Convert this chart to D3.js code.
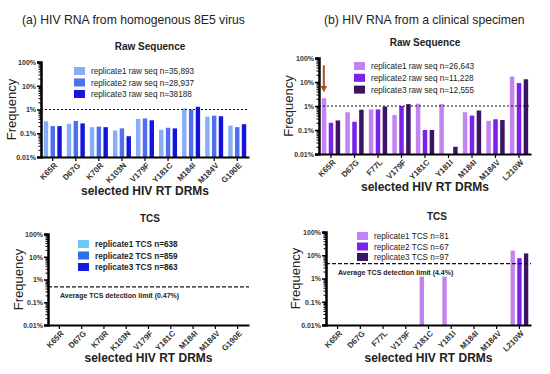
<!DOCTYPE html>
<html lang="en">
<head>
<meta charset="utf-8" />
<title>HIV RT DRMs frequency</title>
<script src="https://d3js.org/d3.v7.min.js"></script>
<style>
  body { margin: 0; background: #fff; font-family: Arial, "Liberation Sans", sans-serif; }
  svg text { fill: #222; }
  .tick text { font-weight: bold; font-size: 7px; fill: #333; }
</style>
</head>
<body>
<svg id="chart" width="550" height="374"></svg>
<script>
// categories
const drmsA = ["K65R", "D67G", "K70R", "K103N", "V179F", "Y181C", "M184I", "M184V", "G190E"];
const drmsB = ["K65R", "D67G", "F77L", "V179F", "Y181C", "Y181I", "M184I", "M184V", "L210W"];

// (a) raw sequence, percent
const rawA1 = [0.32, 0.25, 0.18, 0.13, 0.40, 0.14, 1.10, 0.50, 0.21];
const rawA2 = [0.20, 0.33, 0.19, 0.16, 0.42, 0.17, 1.00, 0.55, 0.18];
const rawA3 = [0.20, 0.26, 0.18, 0.075, 0.35, 0.16, 1.30, 0.52, 0.24];

// (a) TCS - nothing detected
const tcsA1 = [null, null, null, null, null, null, null, null, null];
const tcsA2 = [null, null, null, null, null, null, null, null, null];
const tcsA3 = [null, null, null, null, null, null, null, null, null];

// (b) raw sequence, percent
const rawB1 = [2.1, 0.55, 0.72, 0.42, 1.25, 1.2, 0.55, 0.24, 17];
const rawB2 = [0.20, 0.22, 0.72, 1.0, 0.10, null, 0.40, 0.28, 9];
const rawB3 = [0.25, 0.70, 0.95, 1.2, 0.10, 0.02, 0.65, 0.26, 13];

// (b) TCS, percent
const tcsB1 = [null, null, null, null, 1.2, 1.2, null, null, 16];
const tcsB2 = [null, null, null, null, null, null, null, null, 7.5];
const tcsB3 = [null, null, null, null, null, null, null, null, 12];

const legRawA = ["replicate1 raw seq n=35,893", "replicate2 raw seq n=28,937", "replicate3 raw seq n=38188"];
const legTcsA = ["replicate1 TCS n=638", "replicate2 TCS n=859", "replicate3 TCS n=863"];
const legRawB = ["replicate1 raw seq n=26,643", "replicate2 raw seq n=11,228", "replicate3 raw seq n=12,555"];
const legTcsB = ["replicate1 TCS n=81", "replicate2 TCS n=67", "replicate3 TCS n=97"];

const yTicks = [0.01, 0.1, 1, 10, 100];
const yTickLabels = ["0.01%", "0.1%", "1%", "10%", "100%"];

const colorsA = ["#86aef6", "#4d6ff0", "#1414dc"];
const colorsTcsA = ["#6cc8f2", "#2f6fe6", "#1818e0"];
const colorsB = ["#c384f2", "#7b22ea", "#3b1466"];

const svg = d3.select("#chart");

svg.append("text").attr("x", 22).attr("y", 24).attr("font-size", 12.2)
  .text("(a) HIV RNA from homogenous 8E5 virus");
svg.append("text").attr("x", 324).attr("y", 24).attr("font-size", 12.2)
  .text("(b) HIV RNA from a clinical specimen");

function drawPanel(p) {
  const g = svg.append("g");
  const x = d3.scaleBand().domain(p.cats).range([p.x0, p.x1]).paddingInner(0.22).paddingOuter(0.12);
  const xs = d3.scaleBand().domain([0, 1, 2]).range([0, x.bandwidth()]).paddingInner(0.35);
  const y = d3.scaleLog().domain([0.01, 100]).range([p.yBot, p.yTop]);

  // title
  g.append("text").attr("x", p.titleX).attr("y", p.yTop - 12).attr("text-anchor", "middle")
    .attr("font-size", 10).attr("font-weight", "bold").text(p.title);

  // bars
  p.series.forEach((s, i) => {
    g.append("g").selectAll("rect")
      .data(s.map((v, j) => ({ v, c: p.cats[j] })).filter(d => d.v != null))
      .join("rect")
      .attr("x", d => x(d.c) + xs(i))
      .attr("width", xs.bandwidth())
      .attr("y", d => y(d.v))
      .attr("height", d => p.yBot - y(d.v))
      .attr("fill", p.colors[i]);
  });

  // threshold line
  g.append("line").attr("x1", p.x0).attr("x2", p.x1)
    .attr("y1", y(p.limit)).attr("y2", y(p.limit))
    .attr("stroke", "#111").attr("stroke-width", 1.2)
    .attr("stroke-dasharray", p.dash);
  if (p.limitLabel) {
    g.append("text").attr("x", p.x0 + 12).attr("y", y(p.limit) + 11)
      .attr("font-size", 7).attr("font-weight", "bold").text(p.limitLabel);
  }

  // y axis with minor log ticks
  const minor = [];
  for (let e = -2; e < 2; e++) for (let k = 2; k <= 9; k++) minor.push(k * Math.pow(10, e));
  g.append("g").attr("transform", `translate(${p.x0},0)`)
    .call(d3.axisLeft(y).tickValues(minor).tickSize(2.5).tickFormat(""))
    .call(a => a.select(".domain").remove())
    .call(a => a.selectAll("line").attr("stroke", "#000"));
  g.append("g").attr("transform", `translate(${p.x0},0)`)
    .call(d3.axisLeft(y).tickValues(yTicks).tickSize(4).tickPadding(1)
      .tickFormat((d, i) => yTickLabels[i]))
    .call(a => a.select(".domain").attr("stroke", "#000").attr("stroke-width", 2.5))
    .call(a => a.selectAll("line").attr("stroke", "#000").attr("stroke-width", 1.5));

  // x axis, labels slanted up to the right and ending under the tick
  const xa = g.append("g").attr("transform", `translate(0,${p.yBot})`)
    .call(d3.axisBottom(x).tickSize(4).tickSizeOuter(0));
  xa.select(".domain").attr("stroke", "#000").attr("stroke-width", 2);
  xa.selectAll("line").attr("stroke", "#000").attr("stroke-width", 1.2);
  xa.selectAll("text").style("font-size", "8px")
    .attr("x", 0).attr("y", 0).attr("dy", "0.35em")
    .attr("text-anchor", "end")
    .attr("transform", "translate(3,7) rotate(-45)");

  // axis titles
  g.append("text").attr("x", (p.x0 + p.x1) / 2).attr("y", p.xTitleY).attr("text-anchor", "middle")
    .attr("font-size", 12).attr("font-weight", "bold").text("selected HIV RT DRMs");
  g.append("text")
    .attr("transform", `translate(${p.yLabX},${(p.yTop + p.yBot) / 2}) rotate(-90)`)
    .attr("text-anchor", "middle").attr("font-size", 13).text("Frequency");

  // legend
  p.legend.forEach((t, i) => {
    const ly = p.legY + i * p.legStep;
    g.append("rect").attr("x", p.legX).attr("y", ly - 4).attr("width", 11).attr("height", 8)
      .attr("fill", p.legColors[i]);
    g.append("text").attr("x", p.legX + 17).attr("y", ly + 3).attr("font-size", 8.2)
      .attr("font-weight", p.legBold ? "bold" : "normal").text(t);
  });
  return { x, y };
}

drawPanel({
  cats: drmsA, series: [rawA1, rawA2, rawA3], colors: colorsA, legColors: colorsA,
  x0: 41, x1: 249, yTop: 62, yBot: 157, title: "Raw Sequence", titleX: 150,
  limit: 1, dash: "2,2", xTitleY: 195, yLabX: 16,
  legend: legRawA, legX: 74, legY: 71, legStep: 11.5
});
drawPanel({
  cats: drmsA, series: [tcsA1, tcsA2, tcsA3], colors: colorsTcsA, legColors: colorsTcsA,
  x0: 48, x1: 249, yTop: 234, yBot: 325, title: "TCS", titleX: 150,
  limit: 0.47, dash: "4,2", xTitleY: 362, yLabX: 23,
  limitLabel: "Average TCS detection limit (0.47%)",
  legend: legTcsA, legX: 78, legY: 244, legStep: 11.5, legBold: true
});
const pb = drawPanel({
  cats: drmsB, series: [rawB1, rawB2, rawB3], colors: colorsB, legColors: colorsB,
  x0: 319, x1: 531, yTop: 58, yBot: 154, title: "Raw Sequence", titleX: 425,
  limit: 1, dash: "2,2", xTitleY: 191, yLabX: 293,
  legend: legRawB, legX: 354, legY: 66, legStep: 11.8
});
drawPanel({
  cats: drmsB, series: [tcsB1, tcsB2, tcsB3], colors: colorsB, legColors: colorsB,
  x0: 326, x1: 531, yTop: 232, yBot: 325, title: "TCS", titleX: 437,
  limit: 4.4, dash: "4,2", xTitleY: 362, yLabX: 300,
  limitLabel: "Average TCS detection limit (4.4%)",
  legend: legTcsB, legX: 357, legY: 236, legStep: 10.5
});

// red arrow marking K65R in (b)
const ax = pb.x("K65R") + 2;
svg.append("defs").append("marker").attr("id", "ah").attr("viewBox", "0 0 10 10")
  .attr("refX", 5).attr("refY", 5).attr("markerWidth", 3.2).attr("markerHeight", 3.2)
  .attr("orient", "auto")
  .append("path").attr("d", "M0,0L10,5L0,10z").attr("fill", "#b34a1c");
svg.append("line").attr("x1", ax).attr("x2", ax).attr("y1", pb.y(50)).attr("y2", pb.y(5))
  .attr("stroke", "#b34a1c").attr("stroke-width", 2).attr("marker-end", "url(#ah)");
</script>
</body>
</html>
